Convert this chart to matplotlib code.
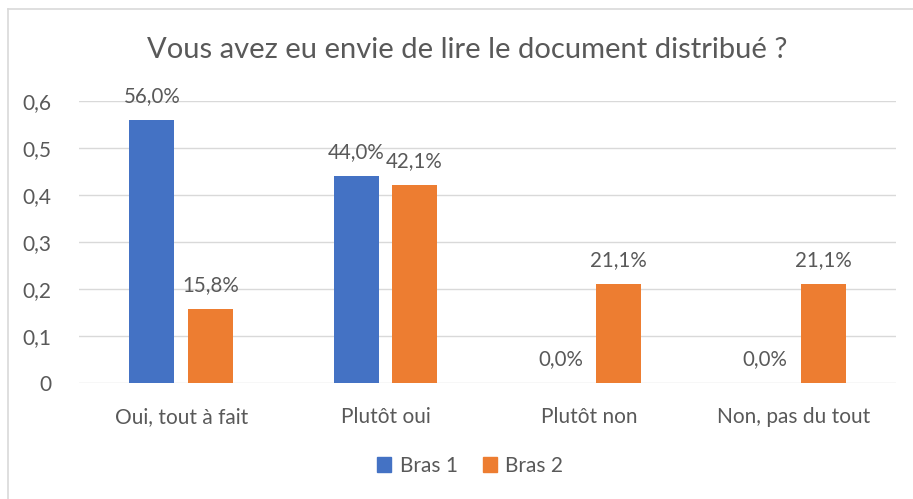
import matplotlib
matplotlib.use("Agg")
import matplotlib.pyplot as plt
import numpy as np
from matplotlib.lines import Line2D

categories = ["Oui, tout à fait", "Plutôt oui", "Plutôt non", "Non, pas du tout"]
bras1 = [0.56, 0.44, 0.0, 0.0]
bras2 = [0.158, 0.421, 0.211, 0.211]
series_names = ["Bras 1", "Bras 2"]
colors = ["#4472C4", "#ED7D31"]
text_col = "#595959"

plt.rcParams["font.family"] = ["Lato", "DejaVu Sans"]

fig = plt.figure(figsize=(9.13, 4.99), dpi=100)
W, H = 913, 499
ax = fig.add_axes([79 / W, 1 - 383 / H, (896 - 79) / W, (383 - 101) / H])

x = np.arange(len(categories))
bw = 0.22
off = 0.143
for vals, name, c, sgn in [(bras1, series_names[0], colors[0], -1), (bras2, series_names[1], colors[1], 1)]:
    bars = ax.bar(x + sgn * off, vals, bw, color=c, label=name, zorder=3)
    for b, v in zip(bars, vals):
        ax.text(b.get_x() + b.get_width() / 2, v + 0.03, f"{v * 100:.1f}%".replace(".", ","),
                ha="center", va="bottom", fontsize=14.8, color=text_col)

ax.set_xlim(-0.5, len(categories) - 0.5)
ax.set_ylim(0, 0.6)
ax.set_yticks(np.arange(0, 0.61, 0.1))
ax.set_yticklabels(["0"] + [f"{t:.1f}".replace(".", ",") for t in np.arange(0.1, 0.61, 0.1)])
ax.set_xticks(x)
ax.set_xticklabels(categories)
ax.tick_params(axis="both", length=0, labelsize=15, labelcolor=text_col)
ax.tick_params(axis="y", pad=20)
ax.tick_params(axis="x", pad=17)
ax.grid(axis="y", color="#D9D9D9", linewidth=1, zorder=0)
for s in ax.spines.values():
    s.set_visible(False)

fig.text(0.5 * (145 + 790) / W, 1 - 50 / H, "Vous avez eu envie de lire le document distribué ?",
         ha="center", va="center", fontsize=21, color=text_col)

handles = [plt.Rectangle((0, 0), 1, 1, color=c) for c in colors]
fig.legend(handles, series_names, loc="center", bbox_to_anchor=(0.5 * (380 + 560) / W, 1 - 466 / H),
           ncol=2, frameon=False, fontsize=15, handlelength=0.7, handleheight=0.7,
           columnspacing=1.2, handletextpad=0.4, labelcolor=text_col)

# chart border (only left and top visible in the crop)
fig.add_artist(Line2D([8 / W, 8 / W], [0, 1 - 9 / H], color="#D9D9D9", lw=1.2))
fig.add_artist(Line2D([8 / W, 1], [1 - 9 / H, 1 - 9 / H], color="#D9D9D9", lw=1.2))

fig.savefig("out.png", dpi=100)
